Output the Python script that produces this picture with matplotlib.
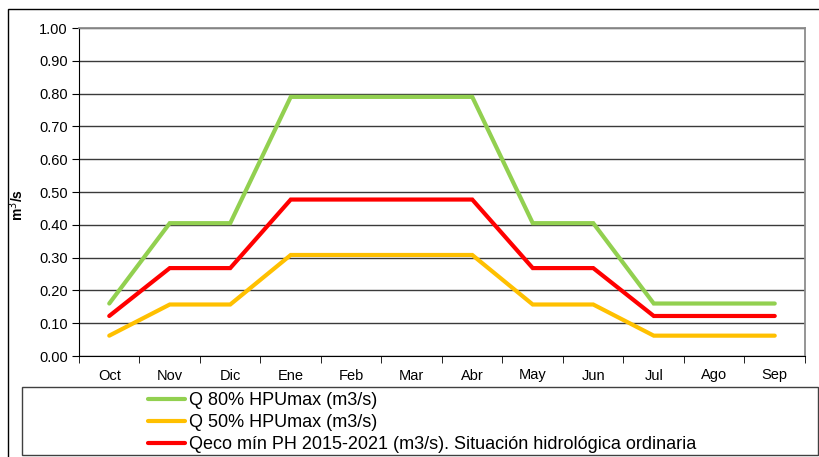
import matplotlib.pyplot as plt
from matplotlib.patches import Rectangle

plt.rcParams['font.family'] = ['Liberation Sans', 'DejaVu Sans']

meses = ['Oct', 'Nov', 'Dic', 'Ene', 'Feb', 'Mar', 'Abr', 'May', 'Jun', 'Jul', 'Ago', 'Sep']
q80 = [0.16, 0.405, 0.405, 0.79, 0.79, 0.79, 0.79, 0.405, 0.405, 0.16, 0.16, 0.16]
q50 = [0.062, 0.157, 0.157, 0.308, 0.308, 0.308, 0.308, 0.157, 0.157, 0.062, 0.062, 0.062]
qeco = [0.122, 0.268, 0.268, 0.477, 0.477, 0.477, 0.477, 0.268, 0.268, 0.122, 0.122, 0.122]

nombres = ['Q 80% HPUmax (m3/s)', 'Q 50% HPUmax (m3/s)',
           'Qeco mín PH 2015-2021 (m3/s). Situación hidrológica ordinaria']
colores = ['#92d050', '#ffc000', '#ff0000']

W, H = 820, 457
fig = plt.figure(figsize=(W / 100, H / 100), dpi=100)
ax = fig.add_axes([79 / W, 1 - 356 / H, (805 - 79) / W, (356 - 28) / H])

x = list(range(len(meses)))
for serie, nombre, color in zip([q80, q50, qeco], nombres, colores):
    ax.plot(x, serie, color=color, lw=3, label=nombre, solid_capstyle='round', solid_joinstyle='miter')

ax.set_xlim(-0.5, len(meses) - 0.5)
ax.set_ylim(0, 1.0)
ax.set_yticks([i / 10 for i in range(11)])
ax.set_yticklabels(['%.2f' % (i / 10) for i in range(11)], fontsize=10.5)
ax.set_xticks(x)
ax.set_xticklabels(meses, fontsize=10.5)
ax.set_xticks([i - 0.5 for i in range(len(meses) + 1)], minor=True)
ax.tick_params(axis='x', which='major', length=0, pad=9)
ax.tick_params(axis='x', which='minor', length=5, direction='out', color='black')
ax.tick_params(axis='y', length=5, direction='out', pad=3)
ax.grid(axis='y', color='#3a3a3a', lw=1)
ax.set_axisbelow(True)
for s in ['top', 'right']:
    ax.spines[s].set_color('#8c8c8c')
    ax.spines[s].set_linewidth(1.3)
ax.spines['left'].set_color('black')
ax.spines['bottom'].set_color('black')
ax.set_ylabel('m$^3$/s', fontweight='bold', fontsize=10)
ax.yaxis.set_label_coords(-0.073, 0.46)

# marco exterior y caja de la leyenda
fig.patches.append(Rectangle((8 / W, -0.05), 1.0, 1 - 9 / H + 0.05, transform=fig.transFigure,
                             fill=False, edgecolor='black', lw=1))
fig.patches.append(Rectangle((22 / W, 1 - 455 / H), (818 - 22) / W, (455 - 387) / H,
                             transform=fig.transFigure, fill=False, edgecolor='#404040', lw=1))

leg = fig.legend(loc='upper left', bbox_to_anchor=(148 / W, 1 - 392 / H), frameon=False,
                 fontsize=13, handlelength=2.05, handletextpad=0.22, labelspacing=0.29,
                 borderpad=0, borderaxespad=0)
leg.set_zorder(5)

fig.savefig('out.png', dpi=100)
